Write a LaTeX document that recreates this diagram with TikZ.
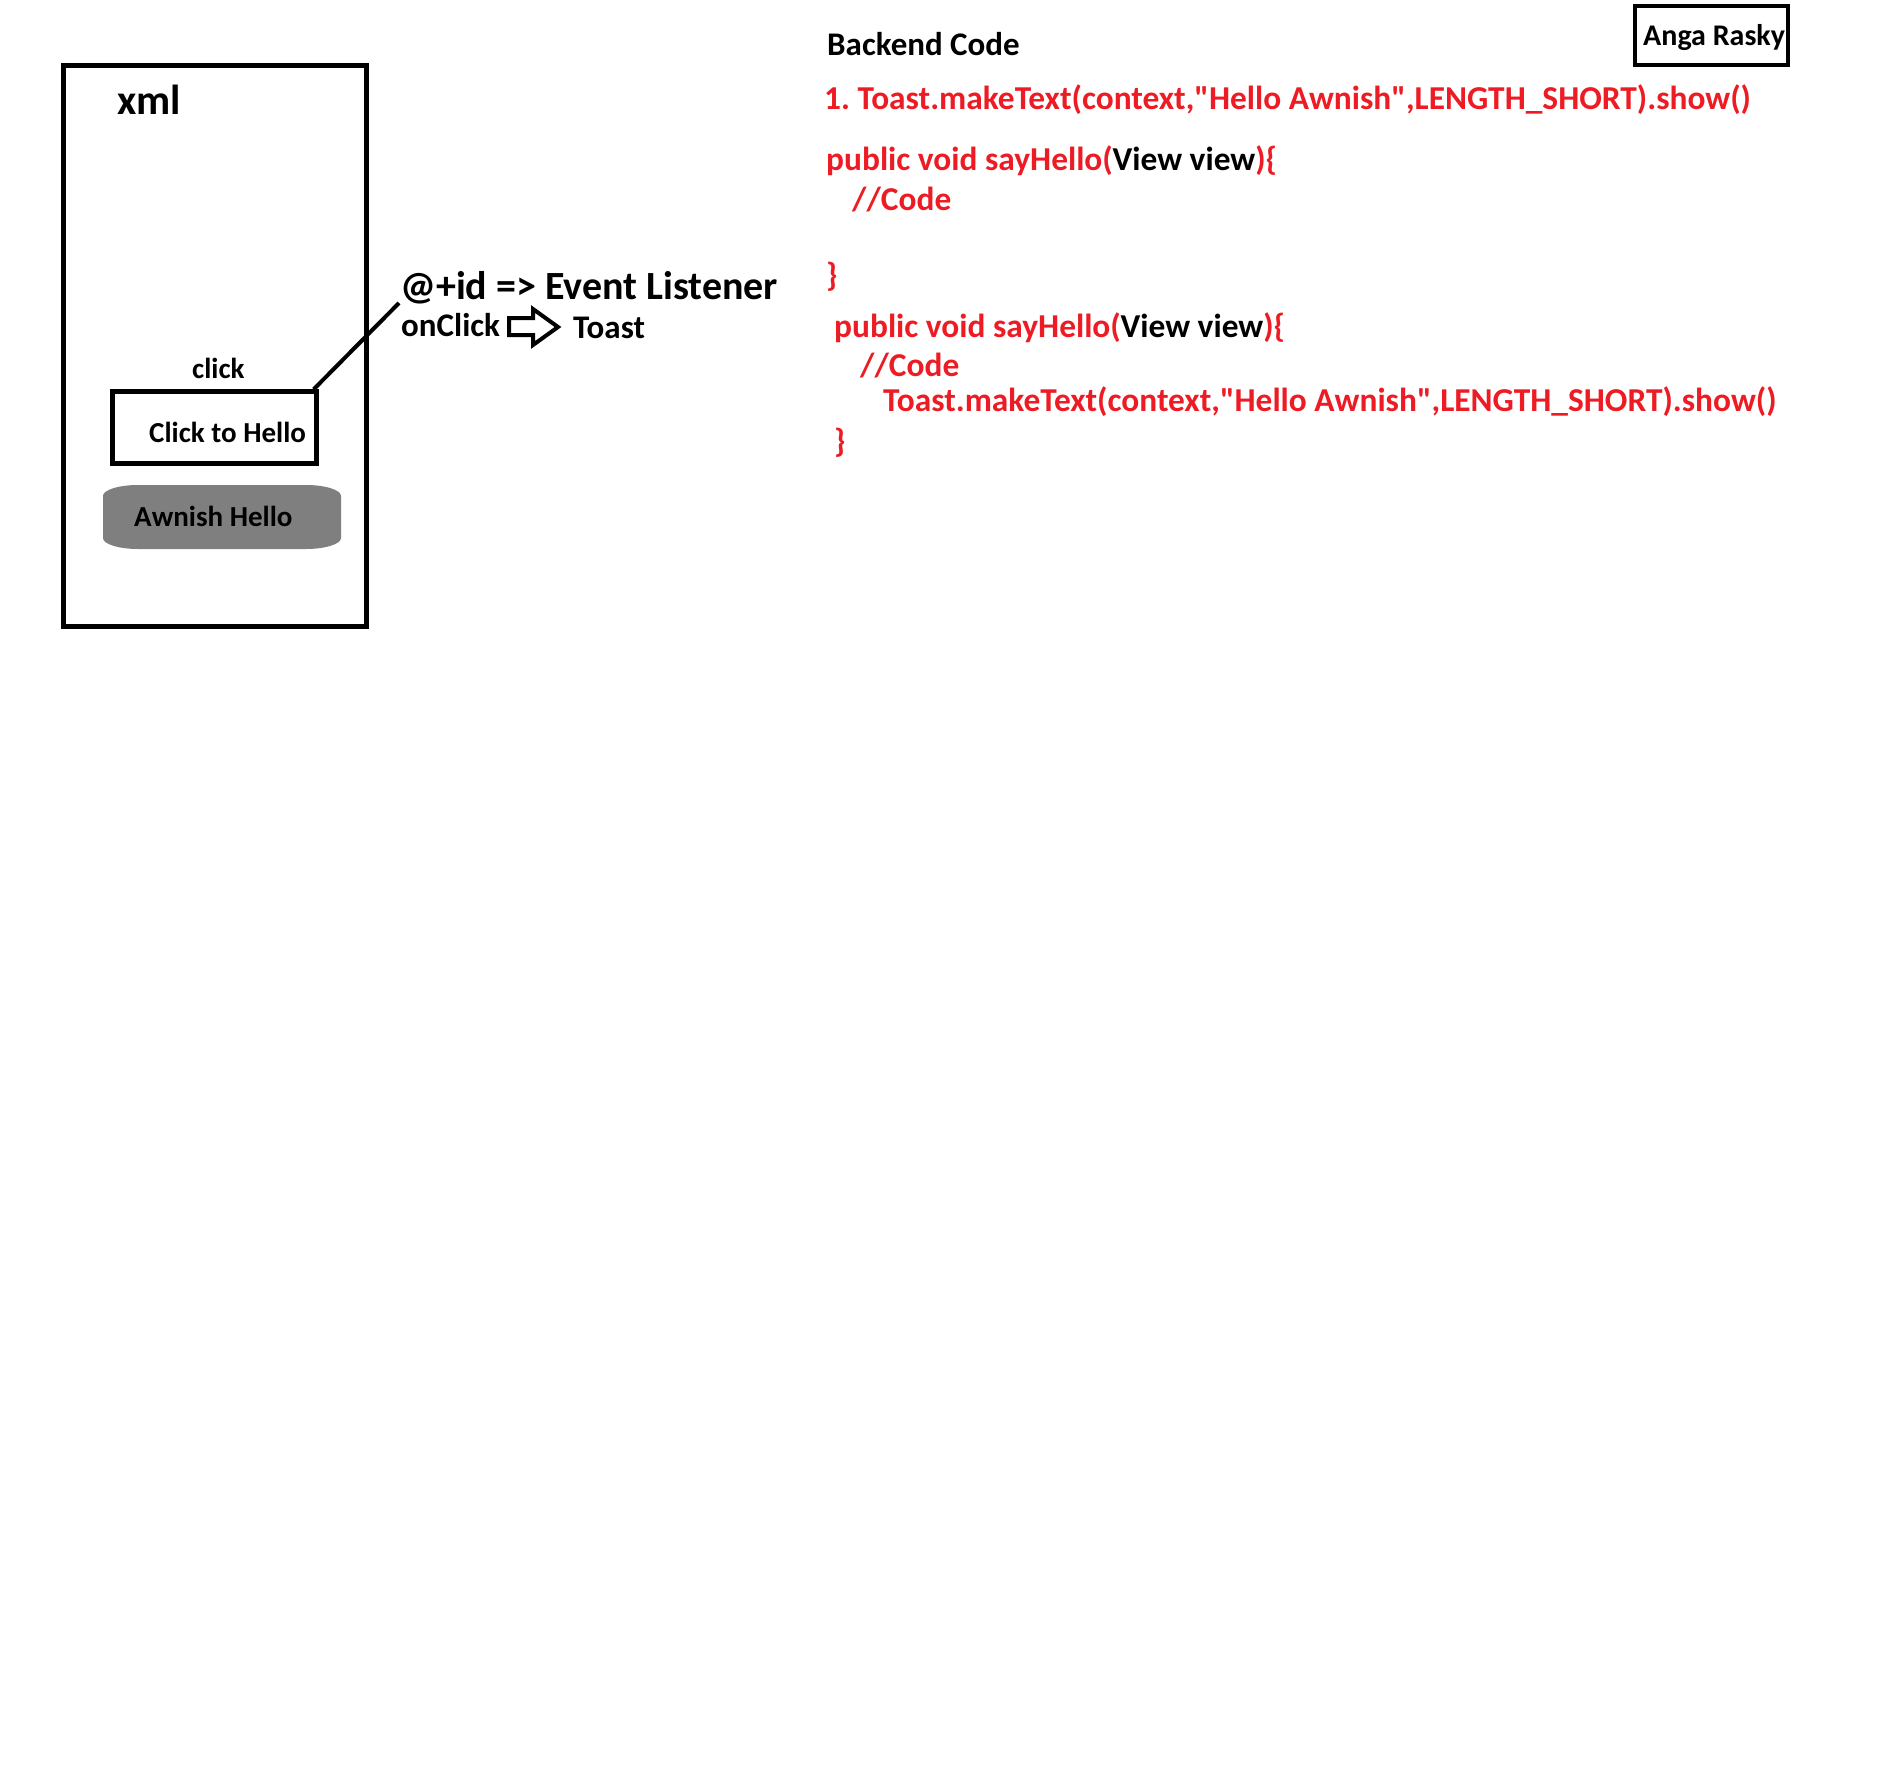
\documentclass[tikz,border=0pt]{standalone}
\usepackage{fontspec}
\setmainfont{Carlito}[Ligatures=TeXOff]
\definecolor{codered}{HTML}{ED1C24}
\definecolor{btngray}{HTML}{7F7F7F}
\newcommand{\fsz}[1]{\fontsize{#1}{#1}\selectfont\bfseries\frenchspacing}
\tikzset{
  txt/.style={inner sep=0pt, anchor=base west, font=\fsz{#1}},
  code/.style={txt=#1, text=codered},
  frame/.style={draw, line width=#1, inner sep=0pt},
}
\begin{document}
\begin{tikzpicture}[x=1pt, y=-1pt]
  \useasboundingbox (0,0) rectangle (1879,1787);

  % phone screen (layout file)
  \node[frame=5pt, minimum width=303pt, minimum height=561pt] (screen) at (215,346) {};
  \node[txt=42] (xml) at (117,115) {xml};
  \node[txt=29] (clicklbl) at (192,378) {click};

  % button
  \node[frame=4.5pt, minimum width=204pt, minimum height=72pt] (clickbox) at (214.5,427.5) {};
  \node[txt=29] (btntext) at (149,442) {Click to Hello};

  % text view with soft elliptical corners
  \fill[btngray] (138,485) -- (306,485)
    arc[start angle=-90, end angle=0, x radius=35, y radius=11] -- (341,538)
    arc[start angle=0, end angle=90, x radius=35, y radius=11] -- (138,549)
    arc[start angle=90, end angle=180, x radius=35, y radius=11] -- (103,496)
    arc[start angle=180, end angle=270, x radius=35, y radius=11] -- cycle;
  \node[txt=29] (tvtext) at (134,526) {Awnish Hello};

  % event listener
  \node[txt=40] (evt) at (400,299) {@+id => Event Listener};
  \coordinate (evtfoot) at (399,303);
  \draw[line width=4pt] ([xshift=-5pt]clickbox.north east) -- (evtfoot);
  \node[txt=33] (onclick) at (401,336) {onClick};
  \draw[line width=4pt, line join=miter]
    (509,318) -- (533,318) -- (533,309) -- (558,327) -- (533,345) -- (533,335) -- (509,335) -- cycle;
  \node[txt=33] (toast) at (573,338) {Toast};

  % backend code
  \node[txt=33] (backend) at (827,56) {Backend Code};
  \node[frame=4pt, minimum width=153pt, minimum height=59pt] (author) at (1711.5,35.5) {};
  \node[txt=30] (authortext) at (1643,46) {Anga Rasky};

  \node[code=33.4] (line1) at (824,110) {1. Toast.makeText(context,"Hello Awnish",LENGTH\_SHORT).show()};
  \node[code=33.4] (sig1) at (826,171) {public void sayHello(\textcolor{black}{View view})\{};
  \node[code=33.4] (cmt1) at (852,211) {//Code};
  \node[code=33.4] (end1) at (826,287) {\}};
  \node[code=33.4] (sig2) at (834,337) {public void sayHello(\textcolor{black}{View view})\{};
  \node[code=33.4] (cmt2) at (860,376) {//Code};
  \node[code=33.4] (call2) at (883,411) {Toast.makeText(context,"Hello Awnish",LENGTH\_SHORT).show()};
  \node[code=33.4] (end2) at (834,452) {\}};
\end{tikzpicture}
\end{document}
